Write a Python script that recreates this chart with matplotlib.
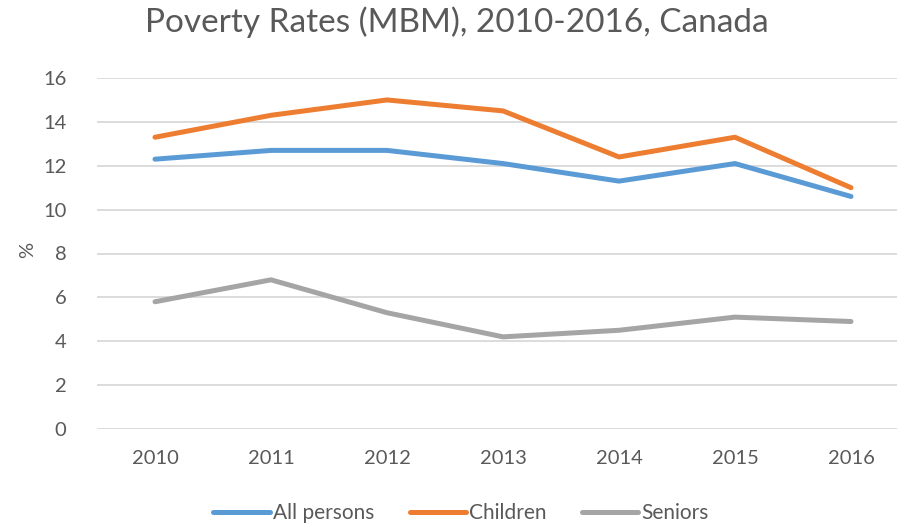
import matplotlib
matplotlib.use("Agg")
import matplotlib.pyplot as plt
from matplotlib.lines import Line2D

years = ["2010", "2011", "2012", "2013", "2014", "2015", "2016"]
all_persons = [12.3, 12.7, 12.7, 12.1, 11.3, 12.1, 10.6]
children = [13.3, 14.3, 15.0, 14.5, 12.4, 13.3, 11.0]
seniors = [5.8, 6.8, 5.3, 4.2, 4.5, 5.1, 4.9]
series_names = ["All persons", "Children", "Seniors"]
colors = ["#5B9BD5", "#ED7D31", "#A5A5A5"]
yticks = [0, 2, 4, 6, 8, 10, 12, 14, 16]

plt.rcParams['font.family'] = ['Lato', 'DejaVu Sans']
W, H = 897, 526
fig = plt.figure(figsize=(W / 100, H / 100), dpi=100)
left, right, top, bottom = 97, 909, 78, 429
ax = fig.add_axes([left / W, 1 - bottom / H, (right - left) / W, (bottom - top) / H])

x = list(range(len(years)))
for vals, name, c in zip([all_persons, children, seniors], series_names, colors):
    ax.plot(x, vals, color=c, lw=3.6, solid_capstyle='round', label=name, zorder=3)

ax.set_xlim(-0.5, len(years) - 0.5)
ax.set_ylim(0, 16)
ax.set_yticks(yticks)
ax.set_yticklabels([str(v) for v in yticks])
ax.set_xticks(x)
ax.set_xticklabels(years)
ax.grid(axis='y', color='#D9D9D9', lw=1.3, zorder=0)
for s in ax.spines.values():
    s.set_visible(False)
ax.tick_params(axis='both', length=0, labelsize=14.5, colors='#595959')
ax.tick_params(axis='x', pad=15)
ax.tick_params(axis='y', pad=22)

fig.text(28 / W, 1 - 250 / H, "%", rotation=90, ha='center', va='center',
         fontsize=14.5, color='#595959')
fig.text(457 / W, 1 - 22 / H, "Poverty Rates (MBM), 2010-2016, Canada", ha='center',
         va='center', fontsize=24, color='#595959')

handles = [Line2D([0], [0], color=c, lw=3.6, solid_capstyle='round') for c in colors]
fig.legend(handles, series_names, loc='center', bbox_to_anchor=(461 / W, 1 - 513 / H),
           ncol=3, frameon=False, fontsize=15, labelcolor='#595959',
           handlelength=2.7, handletextpad=0.15, columnspacing=1.7)

fig.savefig("out.png", dpi=100)
